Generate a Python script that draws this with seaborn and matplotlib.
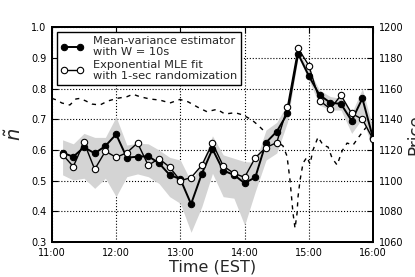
import matplotlib
matplotlib.use("Agg")
import matplotlib.pyplot as plt
import seaborn as sns
import numpy as np

# ---------------- data ----------------
time_labels = ["11:10", "11:20", "11:30", "11:40", "11:50", "12:00",
               "12:10", "12:20", "12:30", "12:40", "12:50", "13:00",
               "13:10", "13:20", "13:30", "13:40", "13:50", "14:00",
               "14:10", "14:20", "14:30", "14:40", "14:50", "15:00",
               "15:10", "15:20", "15:30", "15:40", "15:50", "16:00"]
mean_var = [0.591, 0.578, 0.609, 0.589, 0.613, 0.651, 0.575, 0.578, 0.580, 0.557,
            0.519, 0.505, 0.424, 0.522, 0.603, 0.533, 0.519, 0.492, 0.511, 0.624,
            0.660, 0.719, 0.913, 0.841, 0.779, 0.754, 0.750, 0.695, 0.768, 0.638]
mle_fit = [0.585, 0.546, 0.625, 0.537, 0.596, 0.576, 0.591, 0.623, 0.550, 0.572,
           0.544, 0.500, 0.510, 0.550, 0.622, 0.548, 0.524, 0.511, 0.575, 0.608,
           0.624, 0.739, 0.931, 0.875, 0.761, 0.734, 0.778, 0.719, 0.700, 0.635]
band_hi = [0.633, 0.620, 0.654, 0.641, 0.641, 0.708, 0.616, 0.622, 0.620, 0.600,
           0.576, 0.567, 0.497, 0.557, 0.646, 0.584, 0.573, 0.562, 0.560, 0.665,
           0.690, 0.750, 0.925, 0.860, 0.795, 0.774, 0.768, 0.720, 0.800, 0.670]
band_lo = [0.519, 0.502, 0.508, 0.475, 0.508, 0.448, 0.513, 0.522, 0.513, 0.491,
           0.448, 0.426, 0.332, 0.415, 0.524, 0.448, 0.443, 0.355, 0.465, 0.567,
           0.590, 0.690, 0.904, 0.828, 0.746, 0.730, 0.730, 0.654, 0.703, 0.600]

# price: minutes after 11:00 and index level
price_min = [0, 4.7, 9.3, 16.8, 22.4, 26.2, 31.8, 37.4, 44.9, 52.3, 60.7, 70.1,
             75.7, 82.2, 91.6, 100.9, 110.3, 119.6, 127.1, 136.4, 144.9, 154.2,
             161.7, 171.0, 178.5, 186.9, 192.5, 199.1, 208.4, 215.9, 219.6, 222.4,
             225.2, 227.1, 229.0, 229.9, 231.8, 234.6, 238.3, 241.1, 243.9, 248.6,
             253.3, 258.0, 261.7, 266.4, 271.0, 275.7, 281.3, 286.0, 290.7, 295.3,
             300.0]
price_val = [1153.6, 1152.5, 1150.6, 1149.3, 1153.2, 1153.6, 1151.9, 1149.9, 1149.3,
             1151.9, 1153.6, 1154.7, 1156.3, 1154.7, 1153.2, 1152.5, 1150.6, 1152.9,
             1151.4, 1147.8, 1144.9, 1146.5, 1143.4, 1144.3, 1142.8, 1139.5, 1136.2,
             1131.7, 1126.5, 1122.6, 1116.0, 1100.4, 1078.9, 1069.0, 1078.9, 1089.5,
             1100.4, 1111.5, 1115.4, 1110.8, 1120.0, 1128.4, 1123.2, 1121.9, 1114.7,
             1110.2, 1119.3, 1124.5, 1123.2, 1127.8, 1132.3, 1136.2, 1138.2]

hour_ticks = ["11:00", "12:00", "13:00", "14:00", "15:00", "16:00"]
y_ticks = [0.3, 0.4, 0.5, 0.6, 0.7, 0.8, 0.9, 1.0]
price_ticks = [1060, 1080, 1100, 1120, 1140, 1160, 1180, 1200]

label_mv = "Mean-variance estimator\nwith W = 10s"
label_mle = "Exponential MLE fit\nwith 1-sec randomization"


def to_hours(s):
    h, m = s.split(":")
    return int(h) + int(m) / 60.0


t = np.array([to_hours(s) for s in time_labels])
pt = 11 + np.array(price_min) / 60.0
xt = [to_hours(s) for s in hour_ticks]

# ---------------- style ----------------
sns.set_style("white")
plt.rcParams.update({
    "font.family": ["DejaVu Sans"],
    "xtick.direction": "in",
    "ytick.direction": "in",
    "xtick.major.size": 4,
    "ytick.major.size": 4,
    "axes.edgecolor": "black",
    "axes.linewidth": 1.4,
})

fig = plt.figure(figsize=(4.15, 2.77), dpi=100)
ax = fig.add_axes([0.125, 0.126, 0.774, 0.776])
ax2 = ax.twinx()

# price line on the right axis
sns.lineplot(x=pt, y=price_val, ax=ax2, color="black", linewidth=1.0,
             legend=False)
ax2.lines[0].set_dashes([3.0, 3.5])
ax2.set_ylim(1060, 1200)
ax2.set_yticks(price_ticks)
ax2.tick_params(axis="y", labelsize=7, direction="in", pad=4, colors="black")
ax2.set_ylabel("Price", fontsize=12, labelpad=2)
for sp in ax2.spines.values():
    sp.set_linewidth(1.4)

# main axis on top
ax.set_zorder(ax2.get_zorder() + 1)
ax.patch.set_visible(False)

ax.fill_between(t, band_lo, band_hi, color="#d4d4d4", linewidth=0, zorder=1)
sns.lineplot(x=t, y=mean_var, ax=ax, color="black", linewidth=1.4, marker="o",
             markersize=4.6, markerfacecolor="black", markeredgecolor="black",
             label=label_mv, zorder=3)
sns.lineplot(x=t, y=mle_fit, ax=ax, color="black", linewidth=1.0, marker="o",
             markersize=4.6, markerfacecolor="white", markeredgecolor="black",
             markeredgewidth=0.8, label=label_mle, zorder=4)

ax.set_xlim(11, 16)
ax.set_ylim(0.3, 1.0)
ax.set_xticks(xt)
ax.set_xticklabels(hour_ticks)
ax.set_yticks(y_ticks)
ax.set_yticklabels([f"{v:.1f}" for v in y_ticks])
ax.tick_params(axis="both", labelsize=7, direction="in", pad=4, top=True,
               colors="black")
ax.grid(True, linestyle=":", color="black", linewidth=0.8)
ax.set_xlabel("Time (EST)", fontsize=11.5, labelpad=1)
ax.set_ylabel(r"$\tilde{n}$", fontsize=14, labelpad=4)

leg = ax.legend(loc="upper left", fontsize=8.2, frameon=True, fancybox=False,
                edgecolor="black", framealpha=1, borderaxespad=0.45,
                handlelength=2.0, numpoints=2, labelspacing=0.2,
                borderpad=0.35, handletextpad=0.8)
leg.get_frame().set_linewidth(1.0)
for txt in leg.get_texts():
    txt.set_linespacing(1.15)

fig.savefig("out.png", dpi=100)
